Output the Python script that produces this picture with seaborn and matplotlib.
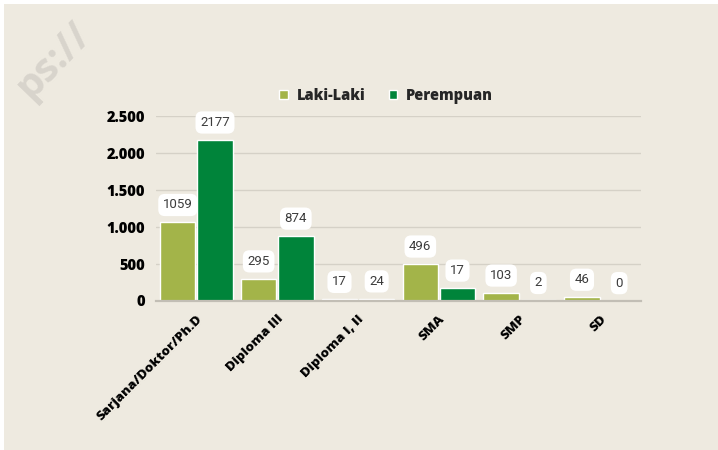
import matplotlib
matplotlib.use("Agg")
import matplotlib.pyplot as plt
import seaborn as sns
import pandas as pd
from matplotlib.patches import Rectangle

categories = ["Sarjana/Doktor/Ph.D", "Diploma III", "Diploma I, II", "SMA", "SMP", "SD"]
series_names = ["Laki-Laki", "Perempuan"]
laki_values = [1059, 295, 17, 496, 103, 46]
perempuan_values = [2177, 874, 24, 170, 2, 0]
laki_labels = ["1059", "295", "17", "496", "103", "46"]
perempuan_labels = ["2177", "874", "24", "17", "2", "0"]
y_ticks = [0, 500, 1000, 1500, 2000, 2500]
y_tick_labels = ["0", "500", "1.000", "1.500", "2.000", "2.500"]

BG = "#EEEAE0"
colors = ["#A3B449", "#00843A"]

sns.set_theme(style="white")
plt.rcParams["font.family"] = ["Open Sans", "DejaVu Sans"]

df = pd.DataFrame({
    "Pendidikan": categories * 2,
    "Jenis": [series_names[0]] * len(categories) + [series_names[1]] * len(categories),
    "Jumlah": laki_values + perempuan_values,
})

fig = plt.figure(figsize=(7.18, 4.5), dpi=100, facecolor="white")
fig.patches.append(Rectangle((4 / 718, 0), 1, (450 - 4) / 450, transform=fig.transFigure,
                             facecolor=BG, edgecolor="none", zorder=-10))

# watermark
fig.text(30 / 718, (450 - 100) / 450, "ps://", rotation=46, rotation_mode="anchor",
         ha="left", va="baseline", fontsize=29, fontweight="bold",
         color="#D8D4CC", family=["Open Sans", "DejaVu Sans"])

ax = fig.add_axes([156 / 718, (450 - 300.5) / 450, (641 - 156) / 718, (300.5 - 116) / 450])
ax.set_facecolor("none")

sns.barplot(data=df, x="Pendidikan", y="Jumlah", hue="Jenis", palette=colors,
            saturation=1, width=0.92, gap=0.05, ax=ax, legend=True, zorder=3)

ax.set_ylim(0, 2500)
ax.set_xlim(-0.5, len(categories) - 0.5)
ax.set_yticks(y_ticks)
ax.set_yticklabels(y_tick_labels, fontsize=10.5, fontweight="heavy", color="black")
ax.set_xticks(range(len(categories)))
ax.set_xticklabels(categories, rotation=45, ha="right", rotation_mode="anchor",
                   fontsize=9.6, fontweight="heavy", color="black")
ax.tick_params(axis="both", length=0, pad=8)
ax.tick_params(axis="x", pad=9)
ax.set_xlabel("")
ax.set_ylabel("")
ax.grid(axis="y", color="#D5D1C7", linewidth=1, zorder=0)
ax.set_axisbelow(True)
for s in ["left", "right", "top"]:
    ax.spines[s].set_visible(False)
ax.spines["bottom"].set_color("#C2BEB5")
ax.spines["bottom"].set_linewidth(1.6)
ax.spines["bottom"].set_zorder(4)

label_sets = [laki_labels, perempuan_labels]
for container, labels in zip(ax.containers, label_sets):
    for bar, lab in zip(container, labels):
        x = bar.get_x() + bar.get_width() / 2
        y = bar.get_height()
        ax.annotate(lab, (x, y), xytext=(0, 12.5), textcoords="offset points",
                    ha="center", va="center", fontsize=9.5, color="#3C3C3C",
                    family=["Roboto", "DejaVu Sans"], zorder=5,
                    bbox=dict(boxstyle="round,pad=0.35,rounding_size=0.5",
                              facecolor="white", edgecolor="none"))

leg = ax.legend(loc="center", bbox_to_anchor=(386 / 718, (450 - 96) / 450),
                bbox_transform=fig.transFigure, ncol=2, frameon=False,
                handlelength=0.6, handleheight=0.6, handletextpad=0.6,
                columnspacing=1.6, prop={"weight": "heavy", "size": 10.5})

fig.savefig("out.png", dpi=100, facecolor="white")
